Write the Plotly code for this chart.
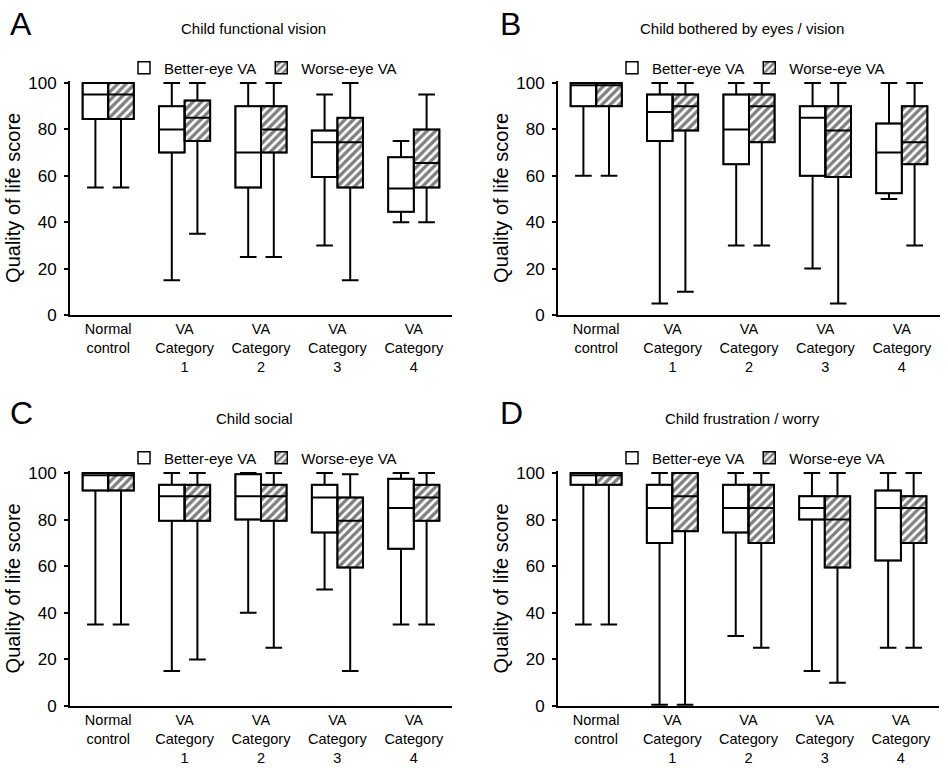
import plotly.graph_objects as go

# ---------------- data ----------------
categories = ["Normal<br>control", "VA<br>Category<br>1", "VA<br>Category<br>2",
              "VA<br>Category<br>3", "VA<br>Category<br>4"]
series_names = ["Better-eye VA", "Worse-eye VA"]
panel_titles = ["Child functional vision", "Child bothered by eyes / vision",
                "Child social", "Child frustration / worry"]
panel_letters = ["A", "B", "C", "D"]

# Panel A: Child functional vision
A_better_min = [55, 15, 25, 30, 40]
A_better_q1 = [84.5, 70, 55, 59.5, 44.5]
A_better_med = [95, 80, 70, 74.5, 54.5]
A_better_q3 = [100, 90, 90, 79.5, 68]
A_better_max = [100, 100, 100, 95, 75]
A_worse_min = [55, 35, 25, 15, 40]
A_worse_q1 = [84.5, 75, 70, 55, 55]
A_worse_med = [95, 85, 80, 74.5, 65.5]
A_worse_q3 = [100, 92.5, 90, 85, 80]
A_worse_max = [100, 100, 100, 100, 95]

# Panel B: Child bothered by eyes / vision
B_better_min = [60, 5, 30, 20, 50]
B_better_q1 = [90, 75, 65, 60, 52.5]
B_better_med = [99, 87.5, 80, 85, 70]
B_better_q3 = [100, 95, 95, 90, 82.5]
B_better_max = [100, 100, 100, 100, 100]
B_worse_min = [60, 10, 30, 5, 30]
B_worse_q1 = [90, 79.5, 74.5, 59.5, 65]
B_worse_med = [99, 90, 90, 79.5, 74.5]
B_worse_q3 = [100, 95, 95, 90, 90]
B_worse_max = [100, 100, 100, 100, 100]

# Panel C: Child social
C_better_min = [35, 15, 40, 50, 35]
C_better_q1 = [92.5, 79.5, 80, 74.5, 67.5]
C_better_med = [99, 90, 90, 89.5, 85]
C_better_q3 = [100, 95, 99.5, 95, 97.5]
C_better_max = [100, 100, 100, 100, 100]
C_worse_min = [35, 20, 25, 15, 35]
C_worse_q1 = [92.5, 79.5, 79.5, 59.5, 79.5]
C_worse_med = [99, 90, 90, 79.5, 89.5]
C_worse_q3 = [100, 95, 95, 89.5, 95]
C_worse_max = [100, 100, 100, 99.5, 100]

# Panel D: Child frustration / worry
D_better_min = [35, 0.5, 30, 15, 25]
D_better_q1 = [95, 70, 74.5, 80, 62.5]
D_better_med = [99, 85, 85, 85, 85]
D_better_q3 = [100, 95, 95, 90, 92.5]
D_better_max = [100, 100, 100, 100, 100]
D_worse_min = [35, 0.5, 25, 10, 25]
D_worse_q1 = [95, 75, 70, 59.5, 70]
D_worse_med = [99, 90, 85, 80, 85]
D_worse_q3 = [100, 100, 95, 90, 90]
D_worse_max = [100, 100, 100, 100, 100]

y_ticks = [0, 20, 40, 60, 80, 100]

panels = [
    [(A_better_min, A_better_q1, A_better_med, A_better_q3, A_better_max),
     (A_worse_min, A_worse_q1, A_worse_med, A_worse_q3, A_worse_max)],
    [(B_better_min, B_better_q1, B_better_med, B_better_q3, B_better_max),
     (B_worse_min, B_worse_q1, B_worse_med, B_worse_q3, B_worse_max)],
    [(C_better_min, C_better_q1, C_better_med, C_better_q3, C_better_max),
     (C_worse_min, C_worse_q1, C_worse_med, C_worse_q3, C_worse_max)],
    [(D_better_min, D_better_q1, D_better_med, D_better_q3, D_better_max),
     (D_worse_min, D_worse_q1, D_worse_med, D_worse_q3, D_worse_max)],
]

# ---------------- layout geometry (pixels) ----------------
W, H = 948, 768
FONT = "Liberation Sans, Arial, Helvetica, sans-serif"
# plot areas: (left, right, top(y=101), bottom(y=0))
areas = [(70, 452, 80.7, 315), (558, 940, 80.7, 315),
         (70, 452, 470.7, 706), (558, 939, 470.7, 706)]
legend_pos = [(124, 68), (612, 68), (124, 458), (612, 458)]
title_pos = [(253, 28), (742, 28), (254, 418), (742, 418)]
letter_pos = [(8, 24), (498, 24), (8, 413), (498, 413)]

fig = go.Figure()
layout = dict(width=W, height=H, margin=dict(l=0, r=0, t=0, b=0),
              paper_bgcolor="white", plot_bgcolor="white",
              boxmode="group", boxgap=0.33, boxgroupgap=0,
              barmode="group", bargap=0.33, bargroupgap=0,
              font=dict(family=FONT, color="black"))
annotations = []

for i, (panel, area) in enumerate(zip(panels, areas)):
    n = i + 1
    xa = "x" if n == 1 else f"x{n}"
    ya = "y" if n == 1 else f"y{n}"
    leg = "legend" if n == 1 else f"legend{n}"
    for j, (stats, name) in enumerate(zip(panel, series_names)):
        mn, q1, med, q3, mx = stats
        if j == 0:
            marker = dict(color="white", line=dict(color="black", width=1.5))
        else:
            marker = dict(color="white", line=dict(color="black", width=1.5),
                          pattern=dict(shape="/", fgcolor="black", bgcolor="white",
                                       size=6, solidity=0.55))
        # filled box body (provides white / hatched fill and legend symbol)
        fig.add_trace(go.Bar(x=categories, y=[b - a for a, b in zip(q1, q3)], base=q1,
                             name=name, marker=marker, offsetgroup=str(j),
                             xaxis=xa, yaxis=ya, legend=leg, showlegend=True,
                             hoverinfo="skip"))
    for j, (stats, name) in enumerate(zip(panel, series_names)):
        mn, q1, med, q3, mx = stats
        fig.add_trace(go.Box(x=categories, lowerfence=mn, q1=q1, median=med, q3=q3,
                             upperfence=mx, name=name, offsetgroup=str(j),
                             fillcolor="rgba(0,0,0,0)",
                             line=dict(color="black", width=2), whiskerwidth=0.65,
                             boxpoints=False, xaxis=xa, yaxis=ya, showlegend=False))
    l, r, t, b = area
    layout[f"xaxis{'' if n == 1 else n}"] = dict(
        domain=[l / W, r / W], anchor=ya, type="category",
        showline=True, linecolor="black", linewidth=2, ticks="",
        showgrid=False, zeroline=False, tickfont=dict(size=14.5, family=FONT),
        automargin=False)
    layout[f"yaxis{'' if n == 1 else n}"] = dict(
        domain=[1 - b / H, 1 - t / H], anchor=xa, range=[0, 101],
        tickvals=y_ticks, ticks="outside", ticklen=4, tickwidth=2, tickcolor="black",
        ticklabelstandoff=4,
        showline=True, linecolor="black", linewidth=2, showgrid=False, zeroline=False,
        tickfont=dict(size=17, family=FONT), automargin=False,
        title=dict(text="Quality of life score", font=dict(size=20, family=FONT),
                   standoff=2))
    lx, ly = legend_pos[i]
    layout[leg] = dict(x=lx / W, y=1 - ly / H, xanchor="left", yanchor="middle",
                       orientation="h", font=dict(size=15, family=FONT),
                       bgcolor="rgba(0,0,0,0)", borderwidth=0,
                       itemclick=False, itemdoubleclick=False)
    tx, ty = title_pos[i]
    annotations.append(dict(text=panel_titles[i], x=tx / W, y=1 - ty / H,
                            xref="paper", yref="paper", showarrow=False,
                            xanchor="center", yanchor="middle",
                            font=dict(size=15, family=FONT)))
    px, py = letter_pos[i]
    annotations.append(dict(text=panel_letters[i], x=px / W, y=1 - py / H,
                            xref="paper", yref="paper", showarrow=False,
                            xanchor="left", yanchor="middle",
                            font=dict(size=32, family=FONT)))

layout["annotations"] = annotations
fig.update_layout(**layout)
fig.write_html("out.html", config={"displayModeBar": False},
               post_script="document.body.style.margin='0';document.body.style.overflow='hidden';")
